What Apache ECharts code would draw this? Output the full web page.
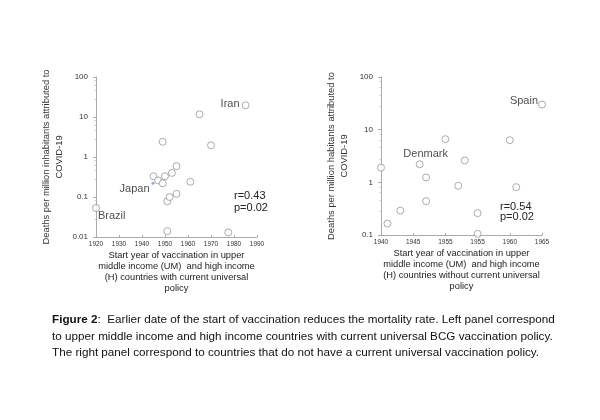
<!DOCTYPE html>
<html>
<head>
<meta charset="utf-8">
<script src="https://cdn.jsdelivr.net/npm/echarts@6/dist/echarts.min.js"></script>
<style>
html,body{margin:0;padding:0;background:#fff;}
#c{width:600px;height:420px;}
</style>
</head>
<body>
<div id="c"></div>
<script>
// Left panel: countries with current universal BCG policy
var leftYears  = [1920, 1945, 1947, 1949, 1950, 1949, 1953, 1955, 1951, 1952, 1955, 1961, 1965, 1970, 1985, 1951, 1977.5];
var leftDeaths = [0.053, 0.33, 0.26, 0.22, 0.33, 2.4, 0.40, 0.59, 0.078, 0.10, 0.12, 0.24, 11.7, 1.96, 19.6, 0.014, 0.013];
var leftNames  = ['Brazil', '', '', '', '', '', '', '', '', '', '', '', '', '', 'Iran', '', ''];
var japanYear = [1944.8];
var japanDeaths = [0.22];
var leftXTicks = ['1920', '1930', '1940', '1950', '1960', '1970', '1980', '1990'];
var leftYTicks = ['0.01', '0.1', '1', '10', '100'];

// Right panel: countries without current universal policy
var rightYears  = [1940, 1941, 1943, 1946, 1947, 1947, 1950, 1953, 1952, 1955, 1955, 1960, 1961, 1965];
var rightDeaths = [1.9, 0.165, 0.29, 2.2, 1.24, 0.44, 6.6, 2.6, 0.86, 0.26, 0.105, 6.3, 0.81, 30];
var rightNames  = ['', '', '', 'Denmark', '', '', '', '', '', '', '', '', '', 'Spain'];
var rightXTicks = ['1940', '1945', '1955', '1955', '1960', '1965'];
var rightYTicks = ['0.1', '1', '10', '100'];

var FONT = 'Liberation Sans, Arial, sans-serif';
var GREY = '#8a8a8a';

var labelStyles = {
  'Brazil':  {position: 'right', offset: [-7, 8]},
  'Iran':    {position: 'left', offset: [3, -1]},
  'Denmark': {position: 'top', offset: [6, 4]},
  'Spain':   {position: 'left', offset: [5, -4]},
  'Japan':   {position: 'left', offset: [3, 6]}
};

function buildData(xs, ys, names) {
  return xs.map(function (x, i) {
    var d = {value: [x, ys[i]], name: names[i]};
    if (names[i]) {
      var ls = labelStyles[names[i]];
      d.label = {show: true, formatter: '{b}', position: ls.position, offset: ls.offset,
        fontSize: 11, color: '#222', fontFamily: FONT};
    }
    return d;
  });
}

function yAxisCfg(idx, min, ticks, name, gap) {
  return {
    type: 'log', gridIndex: idx, min: min, max: 100, logBase: 10,
    axisLine: {show: true, lineStyle: {color: '#aaa', width: 1}},
    axisTick: {show: true, length: 3, lineStyle: {color: '#aaa'}},
    minorTick: {show: true, length: 1.5, splitNumber: 5, lineStyle: {color: '#ccc'}},
    splitLine: {show: false},
    axisLabel: {fontSize: 8, color: '#333', fontFamily: FONT, margin: 8,
      formatter: function (v) { return ticks[Math.round(Math.log10(v) - Math.log10(min))]; }},
    name: name, nameLocation: 'middle', nameGap: gap,
    nameTextStyle: {fontSize: 9.4, color: '#333', fontFamily: FONT, lineHeight: 13, align: 'center'}
  };
}

function xAxisCfg(idx, min, max, interval, ticks, name) {
  return {
    type: 'value', gridIndex: idx, min: min, max: max, interval: interval,
    axisLine: {show: true, lineStyle: {color: '#aaa', width: 1}},
    axisTick: {show: true, length: 2, inside: true, lineStyle: {color: '#aaa'}},
    splitLine: {show: false},
    axisLabel: {fontSize: 6.5, color: '#333', fontFamily: FONT, margin: 4,
      formatter: function (v) { return ticks[Math.round((v - min) / interval)]; }},
    name: name, nameLocation: 'middle', nameGap: 13.5,
    nameTextStyle: {fontSize: 9.3, color: '#222', fontFamily: FONT, lineHeight: 10.8,
      verticalAlign: 'top', align: 'center'}
  };
}

var chart = echarts.init(document.getElementById('c'), null, {renderer: 'canvas'});
chart.setOption({
  backgroundColor: '#fff',
  animation: false,
  grid: [
    {left: 96, top: 77, width: 161, height: 160},
    {left: 381, top: 77, width: 161, height: 158}
  ],
  xAxis: [
    xAxisCfg(0, 1920, 1990, 10, leftXTicks,
      'Start year of vaccination in upper\nmiddle income (UM)  and high income\n(H) countries with current universal\npolicy'),
    xAxisCfg(1, 1940, 1965, 5, rightXTicks,
      'Start year of vaccination in upper\nmiddle income (UM)  and high income\n(H) countries without current universal\npolicy')
  ],
  yAxis: [
    yAxisCfg(0, 0.01, leftYTicks, 'Deaths per million inhabitants attributed to\nCOVID-19', 30),
    yAxisCfg(1, 0.1, rightYTicks, 'Deaths per million habitants attributed to\nCOVID-19', 30)
  ],
  series: [
    {type: 'scatter', xAxisIndex: 0, yAxisIndex: 0, symbol: 'circle', symbolSize: 7,
      itemStyle: {color: '#fff', borderColor: GREY, borderWidth: 0.9},
      data: buildData(leftYears, leftDeaths, leftNames)},
    {type: 'scatter', xAxisIndex: 0, yAxisIndex: 0, symbol: 'circle', symbolSize: 3,
      itemStyle: {color: '#5b9bd5'},
      data: buildData(japanYear, japanDeaths, ['Japan'])},
    {type: 'scatter', xAxisIndex: 1, yAxisIndex: 1, symbol: 'circle', symbolSize: 7,
      itemStyle: {color: '#fff', borderColor: GREY, borderWidth: 0.9},
      data: buildData(rightYears, rightDeaths, rightNames)}
  ],
  graphic: [
    {type: 'text', left: 234, top: 190, style: {text: 'r=0.43\np=0.02', fontSize: 11, lineHeight: 12,
      fill: '#222', fontFamily: FONT}},
    {type: 'text', left: 500, top: 201, style: {text: 'r=0.54\np=0.02', fontSize: 11, lineHeight: 10,
      fill: '#222', fontFamily: FONT}},
    {type: 'text', left: 52, top: 312, style: {
      text: '{b|Figure 2}:  Earlier date of the start of vaccination reduces the mortality rate. Left panel correspond\nto upper middle income and high income countries with current universal BCG vaccination policy.\nThe right panel correspond to countries that do not have a current universal vaccination policy.',
      fontSize: 11.7, lineHeight: 16.5, fill: '#111', fontFamily: FONT,
      rich: {b: {fontWeight: 'bold', fontSize: 11.7, fontFamily: FONT, fill: '#111'}}}}
  ]
});
</script>
</body>
</html>
